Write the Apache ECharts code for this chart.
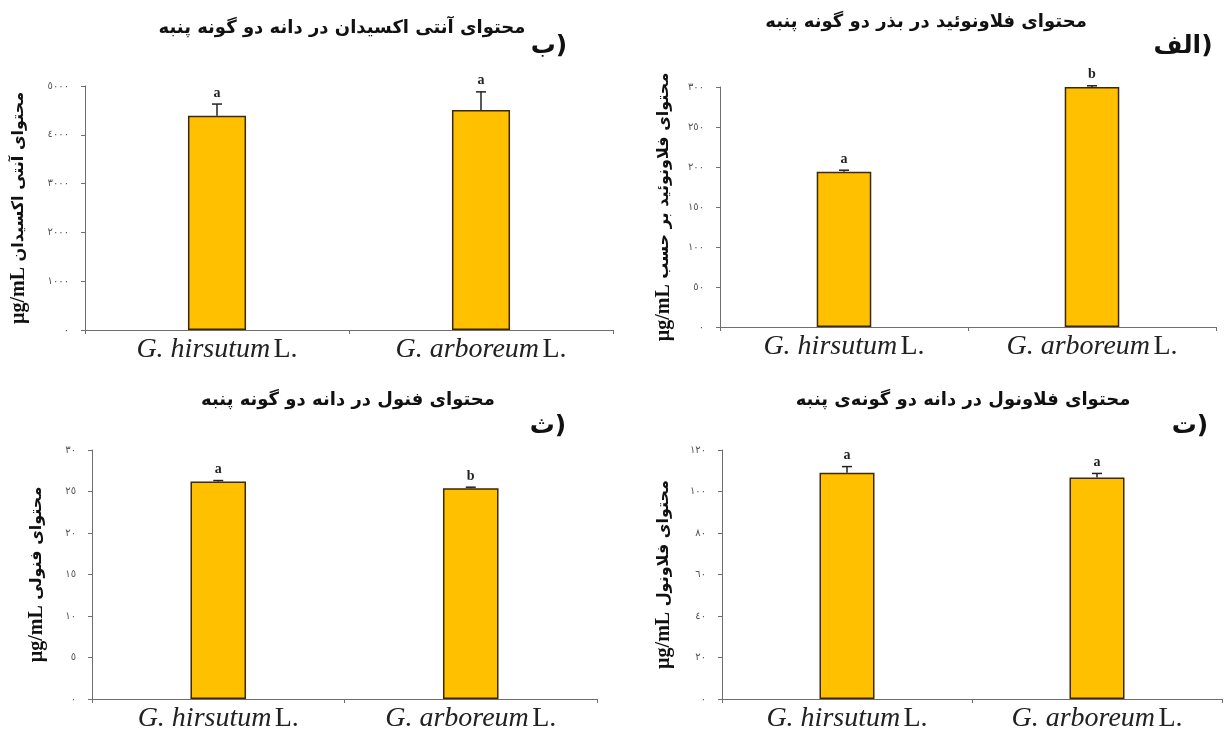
<!DOCTYPE html>
<html><head><meta charset="utf-8">
<script src="https://cdn.jsdelivr.net/npm/echarts@6/dist/echarts.min.js"></script>
<style>html,body{margin:0;padding:0;background:#fff}#c{width:1224px;height:733px;direction:ltr}</style>
</head><body><div id="c"></div>
<script>
// ---- data ----
const categories = ['G. hirsutum', 'G. arboreum'];
const authority = 'L.';

// ب) antioxidant content
const antioxMean = [4390, 4510];
const antioxErr = [240, 370];
const antioxLetters = ['a', 'a'];
const antioxAxis = [0, 5000, 1000];

// الف) flavonoid content
const flavonoidMean = [194, 300];
const flavonoidErr = [2, 1.5];
const flavonoidLetters = ['a', 'b'];
const flavonoidAxis = [0, 300, 50];

// ث) phenol content
const phenolMean = [26.2, 25.4];
const phenolErr = [0.12, 0.12];
const phenolLetters = ['a', 'b'];
const phenolAxis = [0, 30, 5];

// ت) flavonol content
const flavonolMean = [109, 106.7];
const flavonolErr = [3, 2];
const flavonolLetters = ['a', 'a'];
const flavonolAxis = [0, 120, 20];

const titles = [
  'محتوای آنتی اکسیدان در دانه دو گونه پنبه',
  'محتوای فلاونوئید در بذر دو گونه پنبه',
  'محتوای فنول در دانه دو گونه پنبه',
  'محتوای فلاونول در دانه دو گونه‌ی پنبه'
];
const panelTags = ['ب)', 'الف)', 'ث)', 'ت)'];
const unitText = 'µg/mL';
const yNames = [
  'محتوای آنتی اکسیدان',
  'محتوای فلاونوئید بر حسب',
  'محتوای فنولی',
  'محتوای فلاونول'
];

// ---- layout ----
const panels = [
  {mean: antioxMean, err: antioxErr, letters: antioxLetters, axis: antioxAxis,
   grid: {left: 85, top: 86, width: 528, height: 244}, nameGap: 56,
   title: [342, 28], tag: [549, 46]},
  {mean: flavonoidMean, err: flavonoidErr, letters: flavonoidLetters, axis: flavonoidAxis,
   grid: {left: 720, top: 87, width: 496, height: 240}, nameGap: 46,
   title: [926, 22], tag: [1183, 46]},
  {mean: phenolMean, err: phenolErr, letters: phenolLetters, axis: phenolAxis,
   grid: {left: 92, top: 450, width: 505, height: 252}, nameGap: 45,
   title: [348, 400], tag: [548, 426]},
  {mean: flavonolMean, err: flavonolErr, letters: flavonolLetters, axis: flavonolAxis,
   grid: {left: 722, top: 450, width: 500, height: 252}, nameGap: 48,
   title: [963, 400], tag: [1190, 426]}
];

const arabicDigits = '٠١٢٣٤٥٦٧٨٩';
const toArabic = v => String(v).replace(/\d/g, d => arabicDigits[d]);

const grids = [], xAxes = [], yAxes = [], series = [], graphics = [];
panels.forEach((p, k) => {
  grids.push(Object.assign({containLabel: false}, p.grid));
  xAxes.push({
    type: 'category', gridIndex: k, data: categories,
    axisLine: {lineStyle: {color: '#6e6e6e', width: 1}},
    axisTick: {show: true, length: 4, lineStyle: {color: '#6e6e6e'}},
    axisLabel: {
      margin: 6,
      formatter: v => '{i|' + v + '} {n|' + authority + '}',
      rich: {
        i: {fontFamily: 'Liberation Serif', fontStyle: 'italic', fontSize: 28, color: '#222'},
        n: {fontFamily: 'Liberation Serif', fontSize: 28, color: '#222'}
      }
    }
  });
  yAxes.push({
    type: 'value', gridIndex: k, min: p.axis[0], max: p.axis[1], interval: p.axis[2],
    name: '{u|' + unitText + '} {a|' + yNames[k] + '}',
    nameLocation: 'middle', nameRotate: 90, nameGap: p.nameGap,
    nameTextStyle: {
      fontFamily: 'DejaVu Sans', fontWeight: 'bold', fontSize: 16, color: '#111',
      rich: {
        u: {fontFamily: 'Liberation Serif', fontWeight: 'bold', fontSize: 20, color: '#111'},
        a: {fontFamily: 'DejaVu Sans', fontWeight: 'bold', fontSize: 16, color: '#111'}
      }
    },
    axisLine: {show: true, lineStyle: {color: '#6e6e6e', width: 1}},
    axisTick: {show: true, length: 4, lineStyle: {color: '#6e6e6e'}},
    splitLine: {show: false},
    axisLabel: {margin: 16, fontFamily: 'DejaVu Sans', fontSize: 10, color: '#555', formatter: toArabic}
  });
  series.push({
    type: 'bar', xAxisIndex: k, yAxisIndex: k, data: p.mean, barWidth: '22%',
    itemStyle: {color: '#FFC000', borderColor: '#3a2808', borderWidth: 1.5},
    animation: false
  });
  series.push({
    type: 'custom', xAxisIndex: k, yAxisIndex: k, clip: false, animation: false,
    data: p.mean.map((m, i) => [i, m, p.err[i]]),
    renderItem: (params, api) => {
      const i = api.value(0), m = api.value(1), e = api.value(2);
      const b = api.coord([i, m]);
      const t = api.coord([i, m + e]);
      const st = {stroke: '#222', lineWidth: 1.5};
      return {type: 'group', children: [
        {type: 'line', shape: {x1: b[0], y1: b[1], x2: t[0], y2: t[1]}, style: st},
        {type: 'line', shape: {x1: t[0] - 5, y1: t[1], x2: t[0] + 5, y2: t[1]}, style: st},
        {type: 'text', x: t[0], y: t[1] - 4, style: {
          text: p.letters[i], align: 'center', verticalAlign: 'bottom',
          font: 'bold 14px "Liberation Serif"', fill: '#222'}}
      ]};
    }
  });
  graphics.push({type: 'text', x: p.title[0], y: p.title[1], style: {
    text: titles[k], align: 'center', verticalAlign: 'middle',
    font: 'bold 18px "DejaVu Sans"', fill: '#111'}});
  graphics.push({type: 'text', x: p.tag[0], y: p.tag[1], style: {
    text: panelTags[k], align: 'center', verticalAlign: 'middle',
    font: 'bold 25px "DejaVu Sans"', fill: '#111'}});
});

const chart = echarts.init(document.getElementById('c'), null, {renderer: 'canvas'});
chart.setOption({
  backgroundColor: '#ffffff',
  animation: false,
  grid: grids, xAxis: xAxes, yAxis: yAxes, series: series, graphic: graphics
});
</script></body></html>
